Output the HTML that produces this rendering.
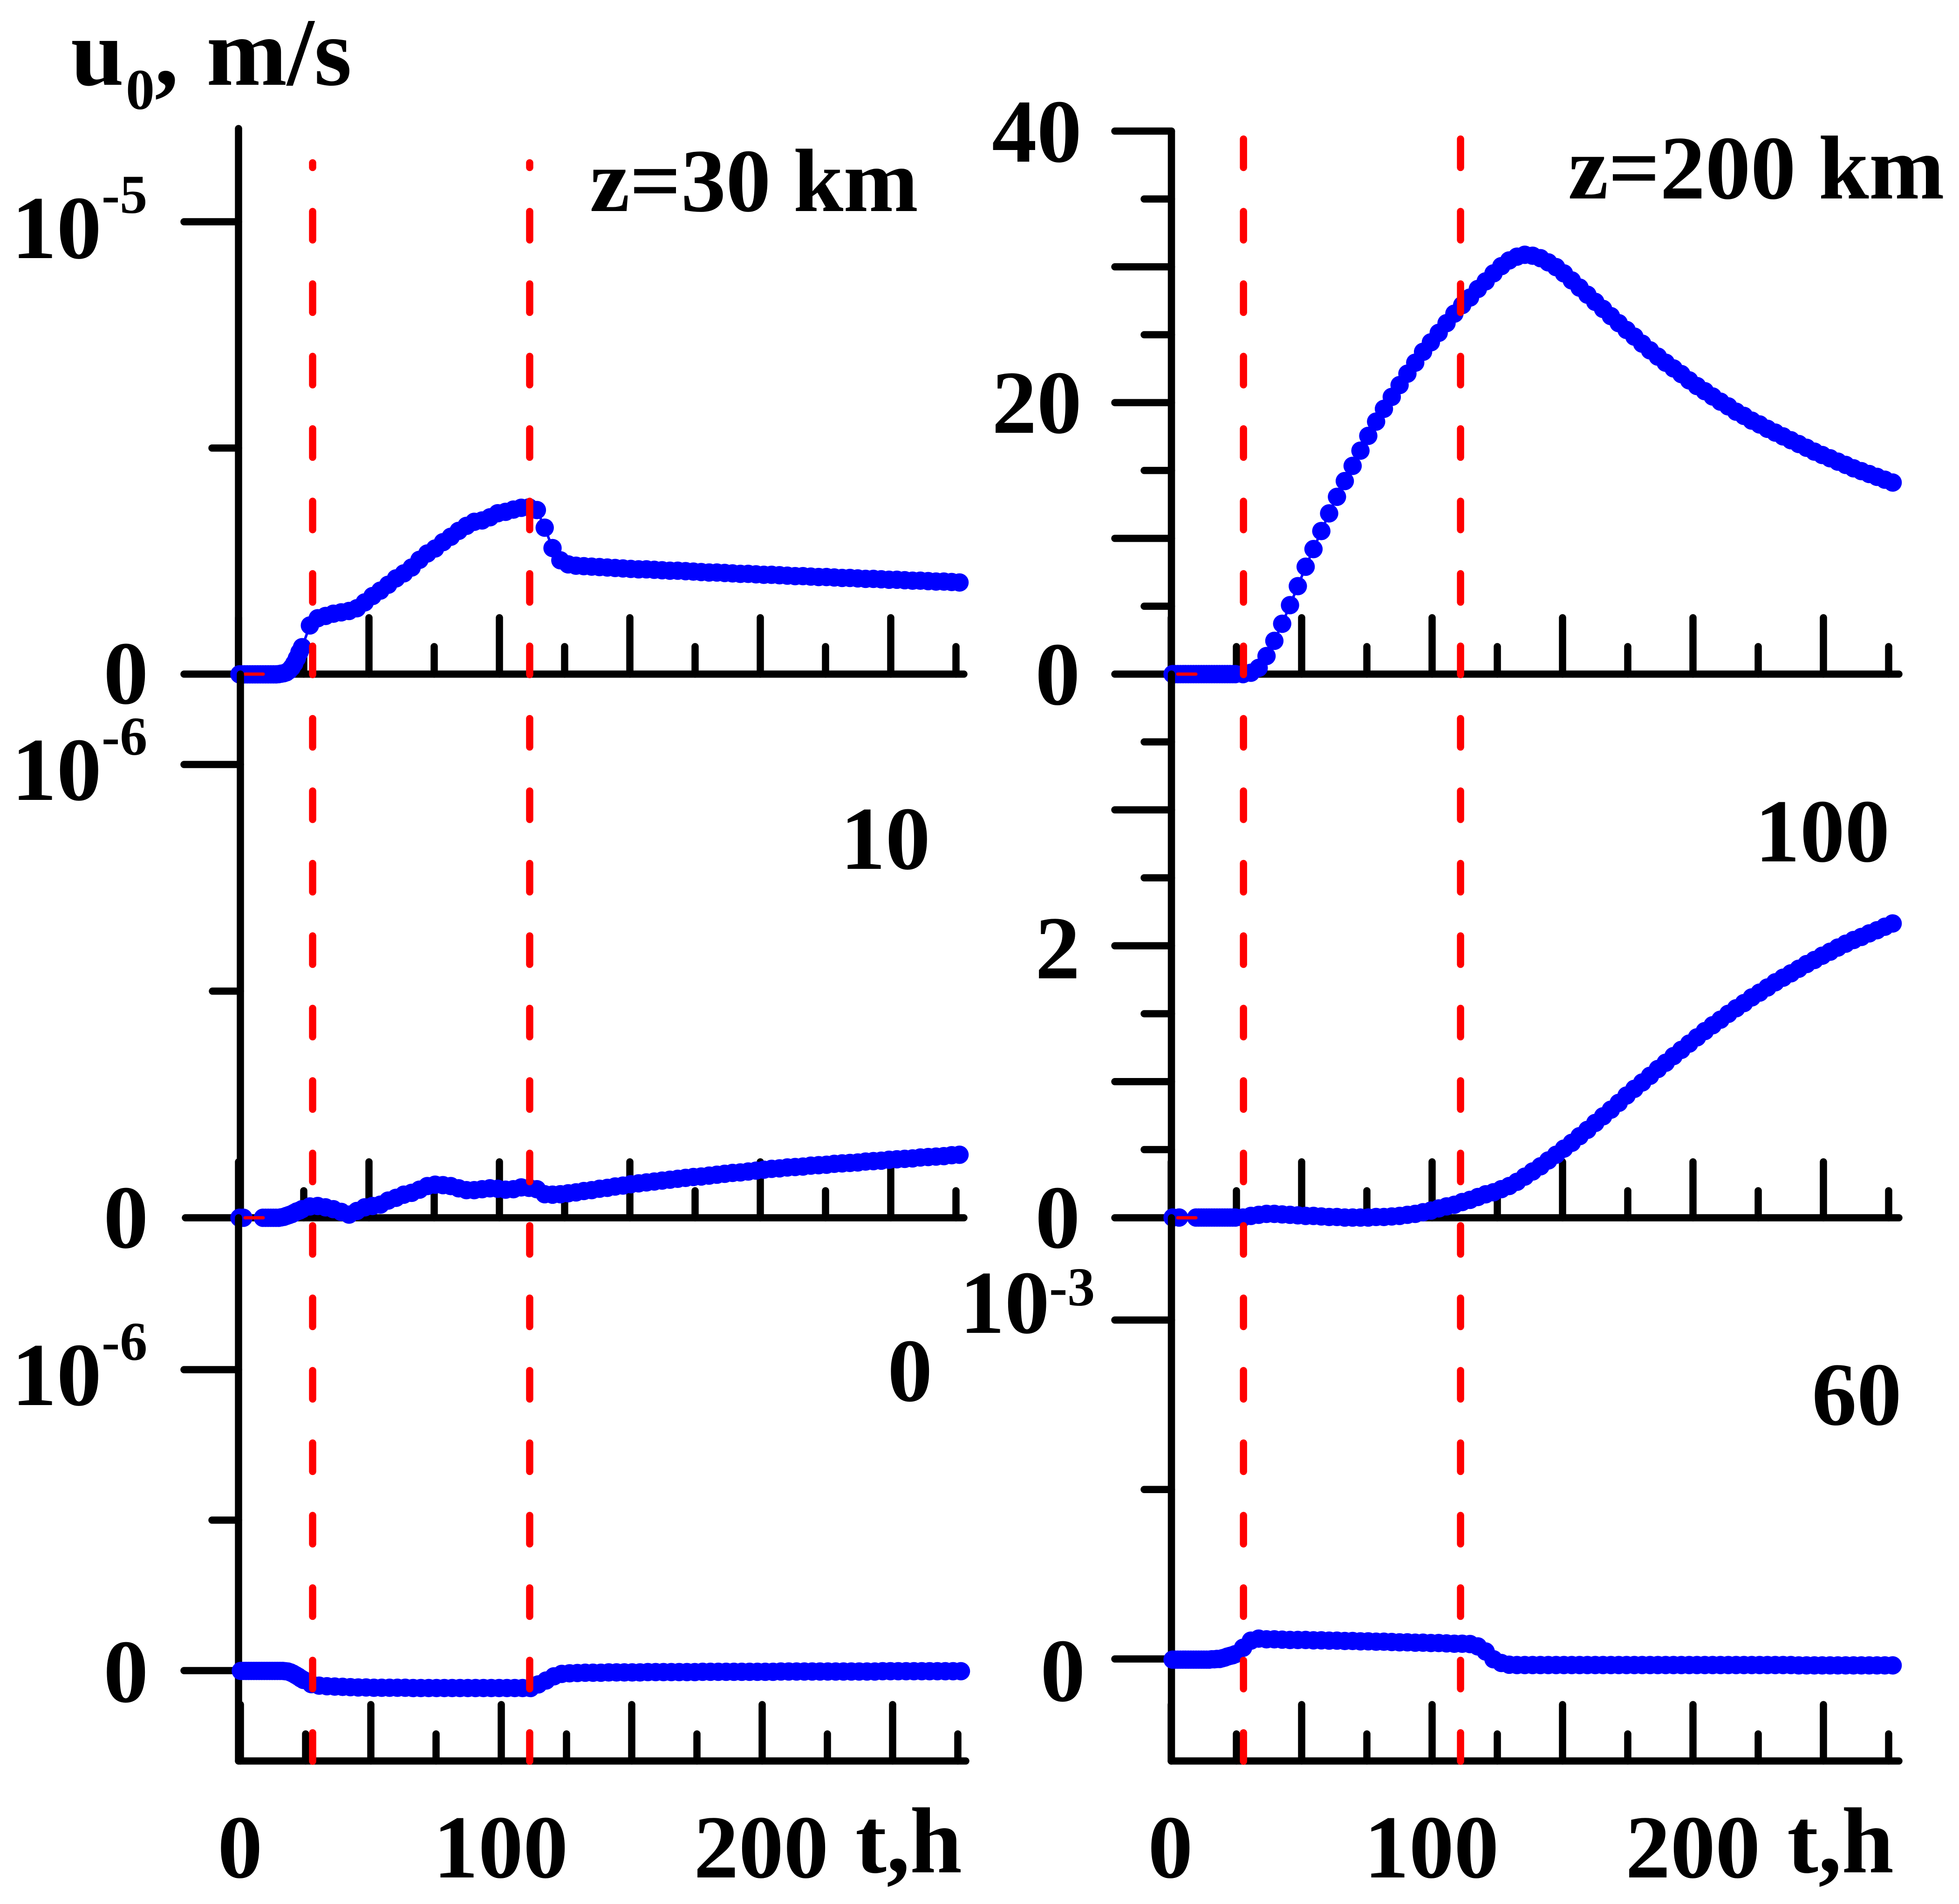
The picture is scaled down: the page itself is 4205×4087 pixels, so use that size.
<!DOCTYPE html>
<html lang="en">
<head>
<meta charset="utf-8">
<title>u0 versus time at several altitudes</title>
<style>
html,body{margin:0;padding:0;background:#fff;}
svg{display:block;}
text{font-family:"Liberation Serif",serif;font-weight:bold;fill:#000;}
.n{font-size:193px;}
.s{font-size:118px;}
</style>
</head>
<body>
<svg id="chart" xmlns="http://www.w3.org/2000/svg" width="4205" height="4087" viewBox="0 0 4205 4087">
<rect x="0" y="0" width="4205" height="4087" fill="#fff"/>
<g id="plot"></g>
<g>
<g>
<text style="font-size:205px" x="152" y="182">u</text><text style="font-size:124px" x="270" y="234">0</text><text style="font-size:205px" x="332" y="182">,</text><text style="font-size:208px" x="443" y="182">m/s</text>
</g>
<text class="n" x="1266" y="453">z=30 km</text>
<text class="n" style="font-size:194.5px" x="3366" y="426">z=200 km</text>
<text class="n" x="1804" y="1865">10</text>
<text class="n" x="1905" y="3007">0</text>
<text class="n" x="3767" y="1849">100</text>
<text class="n" x="3889" y="3058">60</text>

<text class="n" x="25" y="554">10</text><text class="s" x="218" y="457">-5</text>
<text class="n" x="222" y="1510">0</text>
<text class="n" x="25" y="1717">10</text><text class="s" x="218" y="1620">-6</text>
<text class="n" x="222" y="2678">0</text>
<text class="n" x="25" y="3016">10</text><text class="s" x="218" y="2919">-6</text>
<text class="n" x="222" y="3653">0</text>

<text class="n" x="2129" y="347">40</text>
<text class="n" x="2129" y="929">20</text>
<text class="n" x="2222" y="1512">0</text>
<text class="n" x="2222" y="2100">2</text>
<text class="n" x="2222" y="2678">0</text>
<text class="n" x="2060" y="2861">10</text><text class="s" x="2252" y="2802">-3</text>
<text class="n" x="2233" y="3651">0</text>

<text class="n" x="467" y="4030">0</text>
<text class="n" x="930" y="4030">100</text>
<text class="n" x="1489" y="4030">200</text>
<text style="font-size:201px" x="1836" y="4019">t,h</text>
<text class="n" x="2464" y="4030">0</text>
<text class="n" x="2928" y="4030">100</text>
<text class="n" x="3489" y="4030">200</text>
<text style="font-size:201px" x="3836" y="4019">t,h</text>
</g>
</svg>
<script>
// Sampling times, hours: fine steps early on, 3 h steps afterwards
const hours = [0,1,2,3,4,5,6,7,8,9,10,11,12,13,14,15,16,17,18,19,20,21,22,23,24,27,30,33,36,39,42,45,48,51,54,57,60,63,66,69,72,75,78,81,84,87,90,93,96,99,102,105,108,111,114,117,120,123,126,129,132,135,138,141,144,147,150,153,156,159,162,165,168,171,174,177,180,183,186,189,192,195,198,201,204,207,210,213,216,219,222,225,228,231,234,237,240,243,246,249,252,255,258,261,264,267,270,273,276];
const hoursZ10 = [0,1.5].concat(hours.slice(9));
const hoursZ100 = [0,2.5].concat(hours.slice(9));

// Series values
// z=30 km, in units of 1e-6 m/s
const u30 = [0,0,0,0,0,0,0,0,0,0,0,0,0,0,0,0.005,0.015,0.025,0.045,0.087,0.15,0.24,0.355,0.49,0.60,1.08,1.24,1.29,1.34,1.37,1.40,1.46,1.59,1.73,1.85,1.98,2.12,2.23,2.36,2.53,2.67,2.78,2.92,3.04,3.17,3.28,3.37,3.40,3.47,3.56,3.59,3.64,3.68,3.69,3.63,3.24,2.79,2.52,2.43,2.40,2.39,2.38,2.37,2.36,2.35,2.34,2.33,2.32,2.32,2.31,2.30,2.29,2.29,2.28,2.27,2.26,2.25,2.25,2.24,2.23,2.22,2.22,2.21,2.20,2.20,2.19,2.18,2.17,2.17,2.16,2.15,2.15,2.14,2.13,2.13,2.12,2.11,2.11,2.10,2.09,2.09,2.08,2.07,2.07,2.06,2.05,2.05,2.04,2.03];
// z=10 km, in units of 1e-6 m/s
const u10 = [0,0,0,0,0,0,0,0,0,0.001,0.002,0.004,0.006,0.008,0.011,0.014,0.016,0.019,0.025,0.026,0.023,0.019,0.013,0.007,0.015,0.023,0.026,0.029,0.038,0.044,0.051,0.055,0.062,0.070,0.073,0.072,0.070,0.065,0.061,0.061,0.063,0.065,0.064,0.062,0.063,0.067,0.066,0.063,0.052,0.051,0.052,0.054,0.056,0.059,0.061,0.064,0.066,0.069,0.071,0.074,0.076,0.078,0.080,0.082,0.084,0.086,0.088,0.090,0.091,0.093,0.095,0.097,0.099,0.100,0.102,0.104,0.106,0.108,0.109,0.111,0.112,0.113,0.115,0.116,0.117,0.119,0.120,0.121,0.122,0.124,0.125,0.126,0.128,0.129,0.130,0.131,0.133,0.134,0.135,0.136,0.138,0.139];
// z=0 km, in units of 1e-6 m/s
const u0 = [-0.001,-0.001,-0.001,-0.001,-0.001,-0.001,-0.001,-0.001,-0.001,-0.001,-0.001,-0.001,-0.001,-0.001,-0.001,-0.001,-0.001,-0.002,-0.003,-0.006,-0.010,-0.015,-0.020,-0.026,-0.031,-0.045,-0.050,-0.052,-0.053,-0.054,-0.055,-0.056,-0.056,-0.057,-0.057,-0.057,-0.057,-0.057,-0.058,-0.058,-0.058,-0.058,-0.058,-0.058,-0.058,-0.058,-0.058,-0.058,-0.058,-0.058,-0.058,-0.058,-0.058,-0.058,-0.046,-0.033,-0.019,-0.011,-0.009,-0.008,-0.007,-0.007,-0.007,-0.006,-0.006,-0.006,-0.006,-0.006,-0.005,-0.005,-0.005,-0.005,-0.005,-0.005,-0.005,-0.004,-0.004,-0.004,-0.004,-0.004,-0.004,-0.004,-0.004,-0.004,-0.004,-0.003,-0.003,-0.003,-0.003,-0.003,-0.003,-0.003,-0.003,-0.003,-0.003,-0.003,-0.003,-0.003,-0.002,-0.002,-0.002,-0.002,-0.002,-0.002,-0.002,-0.002,-0.002,-0.002,-0.002];
// z=200 km, m/s
const u200 = [0,0,0,0,0,0,0,0,0,0,0,0,0,0,0,0,0,0,0,0,0,0,0,0,0,0,0.10,0.46,1.33,2.45,3.71,5.08,6.48,7.91,9.21,10.54,11.84,13.06,14.22,15.34,16.46,17.55,18.60,19.54,20.42,21.29,22.13,22.94,23.74,24.44,25.14,25.85,26.55,27.18,27.74,28.37,28.93,29.52,30.05,30.47,30.75,30.89,30.82,30.64,30.33,29.98,29.52,29.00,28.47,27.95,27.42,26.90,26.37,25.85,25.35,24.86,24.34,23.85,23.39,22.94,22.52,22.10,21.64,21.22,20.84,20.45,20.07,19.72,19.33,19.02,18.67,18.39,18.07,17.79,17.51,17.23,16.95,16.67,16.39,16.14,15.90,15.65,15.41,15.16,14.95,14.74,14.53,14.32,14.11];
// z=100 km, m/s
const u100 = [0,0,0,0,0,0,0,0,0,0,0,0,0,0,0,0,0,0,0,0.012,0.020,0.027,0.027,0.023,0.020,0.016,0.012,0.012,0.008,0.004,0.004,0,0,0,0,0.004,0.004,0.008,0.012,0.020,0.027,0.039,0.051,0.067,0.082,0.094,0.114,0.130,0.151,0.171,0.186,0.209,0.232,0.263,0.301,0.339,0.377,0.420,0.462,0.507,0.550,0.599,0.645,0.696,0.745,0.794,0.844,0.898,0.947,0.994,1.043,1.093,1.139,1.188,1.234,1.280,1.326,1.372,1.415,1.456,1.499,1.540,1.578,1.620,1.655,1.693,1.731,1.765,1.797,1.831,1.865,1.895,1.927,1.956,1.987,2.015,2.042,2.065,2.091,2.114,2.140,2.164];
// z=60 km, in units of 1e-3 m/s
const u60 = [-0.002,-0.002,-0.002,-0.002,-0.002,-0.002,-0.002,-0.002,-0.002,-0.002,-0.002,-0.002,-0.002,-0.002,-0.002,-0.001,-0.001,0,0,0.002,0.004,0.007,0.009,0.011,0.014,0.033,0.054,0.060,0.058,0.058,0.057,0.056,0.056,0.056,0.055,0.055,0.054,0.054,0.053,0.053,0.052,0.052,0.051,0.051,0.050,0.049,0.049,0.048,0.048,0.047,0.047,0.046,0.045,0.045,0.044,0.037,0.022,-0.001,-0.012,-0.017,-0.018,-0.018,-0.018,-0.018,-0.018,-0.018,-0.018,-0.018,-0.018,-0.018,-0.018,-0.018,-0.018,-0.018,-0.018,-0.018,-0.018,-0.018,-0.018,-0.018,-0.018,-0.018,-0.018,-0.018,-0.018,-0.018,-0.018,-0.018,-0.018,-0.018,-0.018,-0.018,-0.018,-0.018,-0.018,-0.018,-0.019,-0.019,-0.019,-0.019,-0.019,-0.019,-0.019,-0.019,-0.019,-0.019,-0.019,-0.019,-0.019];

// Tick values
const xMajorTicks = [0,50,100,150,200,250];
const xMinorTicks = [25,75,125,175,225,275];
const y30Major = [10], y30Minor = [5];
const y10Major = [1], y10Minor = [0.5];
const y0Major = [1,0], y0Minor = [0.5];
const y200Major = [40,30,20,10], y200Minor = [35,25,15,5];
const y100Major = [3,2,1], y100Minor = [3.5,2.5,1.5,0.5];
const y60Major = [1,0], y60Minor = [0.5];

// Event times marked by the dashed lines, hours
const eventsLeft = [28.4,111.6];
const eventsRight = [27.7,110.9];

const PX_PER_HOUR = 5.6;
const STROKE = 15.5;
const plot = document.getElementById('plot');
const NS = 'http://www.w3.org/2000/svg';

function xAxisFn(originX){ return function(t){ return originX + t * PX_PER_HOUR; }; }
function yAxisFn(zeroY, pxPerUnit){ return function(v){ return zeroY - v * pxPerUnit; }; }

function seg(x1,y1,x2,y2,color,width){
  const el = document.createElementNS(NS,'line');
  el.setAttribute('x1',x1);
  el.setAttribute('y1',y1);
  el.setAttribute('x2',x2);
  el.setAttribute('y2',y2);
  el.setAttribute('stroke',color);
  el.setAttribute('stroke-width',width);
  el.setAttribute('stroke-linecap','round');
  plot.appendChild(el);
  return el;
}

function drawAxes(p){
  const x = xAxisFn(p.tickOriginX);
  const y = yAxisFn(p.zeroY,p.pxPerUnit);
  const baseline = seg(p.baseStart,p.baseY,p.baseEnd,p.baseY,'#000',STROKE);
  
  
  const axis = seg(p.axisX,p.axisTop,p.axisX,p.axisBottom,'#000',STROKE);
  
  
  xMajorTicks.forEach(function(t){
    const el = seg(x(t),p.baseY,x(t),p.majorTop,'#000',STROKE);
    
    
  });
  xMinorTicks.forEach(function(t){
    const el = seg(x(t),p.baseY,x(t),p.minorTop,'#000',STROKE);
    
    
  });
  p.yMajor.forEach(function(v){
    const el = seg(p.yMajorLeft,y(v),p.axisX,y(v),'#000',STROKE);
    
    
  });
  p.yMinor.forEach(function(v){
    const el = seg(p.yMinorLeft,y(v),p.axisX,y(v),'#000',STROKE);
    
    
  });
}

function drawSeries(p){
  const x = xAxisFn(p.dataOriginX);
  const y = yAxisFn(p.zeroY,p.pxPerUnit);
  let d = '';
  p.values.forEach(function(v,i){
    d += (i ? 'L' : 'M') + x(p.times[i]) + ' ' + y(v);
  });
  const path = document.createElementNS(NS,'path');
  path.setAttribute('d',d);
  path.setAttribute('fill','none');
  path.setAttribute('stroke','#0000ff');
  path.setAttribute('stroke-width',5.5);
  
  
  plot.appendChild(path);
  p.values.forEach(function(v,i){
    const c = document.createElementNS(NS,'circle');
    c.setAttribute('cx',x(p.times[i]));
    c.setAttribute('cy',y(v));
    c.setAttribute('r',19.7);
    c.setAttribute('fill','#0000ff');
    
    
    plot.appendChild(c);
  });
  if(p.marker){
    const m = seg(p.tickOriginX + 14,p.baseY,p.tickOriginX + 53,p.baseY,'#ff0000',7);
    
    
  }
}

const columns = [
 [
  {name:'z30',values:u30,times:hours,dataOriginX:514,tickOriginX:512,zeroY:1447.5,pxPerUnit:97.15,yMajor:y30Major,yMinor:y30Minor,yMajorLeft:395,yMinorLeft:455,axisX:512,axisTop:276,axisBottom:1447,baseY:1447,baseStart:395,baseEnd:2069,majorTop:1326,minorTop:1388,marker:true},
  {name:'z10',values:u10,times:hoursZ10,dataOriginX:514,tickOriginX:512,zeroY:2614,pxPerUnit:973,yMajor:y10Major,yMinor:y10Minor,yMajorLeft:395,yMinorLeft:456,axisX:516,axisTop:1447,axisBottom:2614,baseY:2614,baseStart:398,baseEnd:2069,majorTop:2494,minorTop:2556,marker:true},
  {name:'z0',values:u0,times:hours,dataOriginX:517,tickOriginX:516,zeroY:3586,pxPerUnit:646,yMajor:y0Major,yMinor:y0Minor,yMajorLeft:395,yMinorLeft:455,axisX:512,axisTop:2614,axisBottom:3780,baseY:3780,baseStart:512,baseEnd:2073,majorTop:3659,minorTop:3722,marker:false}
 ],
 [
  {name:'z200',values:u200,times:hours,dataOriginX:2517,tickOriginX:2514,zeroY:1447,pxPerUnit:29.14,yMajor:y200Major,yMinor:y200Minor,yMajorLeft:2393,yMinorLeft:2456,axisX:2514.5,axisTop:282,axisBottom:1447,baseY:1447,baseStart:2393,baseEnd:4076,majorTop:1326,minorTop:1388,marker:true},
  {name:'z100',values:u100,times:hoursZ100,dataOriginX:2517,tickOriginX:2514,zeroY:2613.5,pxPerUnit:291.7,yMajor:y100Major,yMinor:y100Minor,yMajorLeft:2393,yMinorLeft:2456,axisX:2514.5,axisTop:1447,axisBottom:2614,baseY:2614,baseStart:2393,baseEnd:4076,majorTop:2494,minorTop:2556,marker:true},
  {name:'z60',values:u60,times:hours,dataOriginX:2517,tickOriginX:2514,zeroY:3561,pxPerUnit:727.5,yMajor:y60Major,yMinor:y60Minor,yMajorLeft:2393,yMinorLeft:2456,axisX:2514.5,axisTop:2614,axisBottom:3780,baseY:3780,baseStart:2514,baseEnd:4076,majorTop:3659,minorTop:3722,marker:false}
 ]
];

columns.forEach(function(col){
  col.forEach(function(p){
    drawAxes(p);
    drawSeries(p);
  });
});

function drawEvents(events,originX,startY,offset){
  const x = xAxisFn(originX);
  events.forEach(function(t){
    const el = seg(x(t),startY,x(t),3780.5,'#ff0000',STROKE);
    el.setAttribute('stroke-dasharray','61 94.5');
    el.setAttribute('stroke-dashoffset',offset);
    
    
  });
}
drawEvents(eventsLeft,512,349.5,51);
drawEvents(eventsRight,2514,298.5,0);
</script>
</body>
</html>
